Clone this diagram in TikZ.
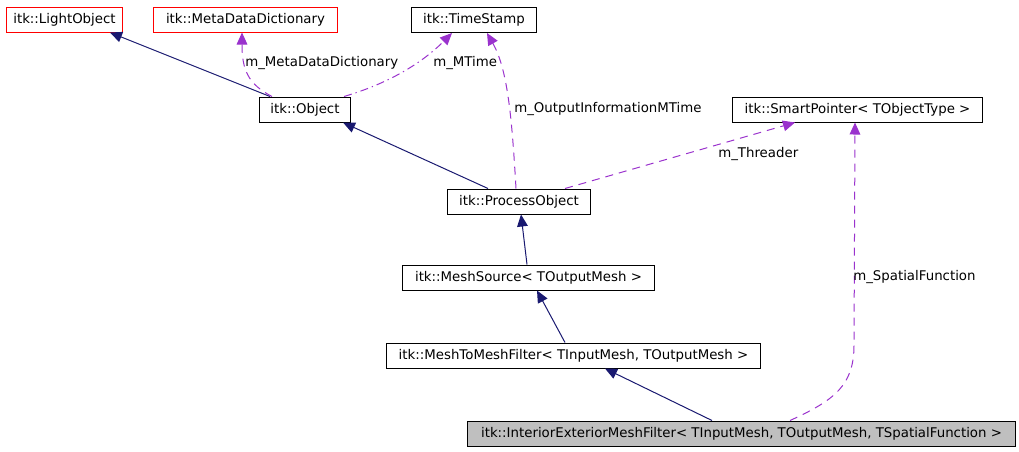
\documentclass[tikz,border=0pt]{standalone}
\usepackage{fontspec}
\setmainfont{DejaVu Sans}
\usetikzlibrary{arrows.meta}
\definecolor{edgeblue}{HTML}{191970}
\definecolor{edgepurple}{HTML}{9A32CD}
\definecolor{boxred}{HTML}{FF0000}
\definecolor{boxgray}{HTML}{BFBFBF}
\tikzset{
  classbox/.style={draw=black, line width=0.75pt, inner sep=0pt, minimum height=25*0.75pt,
    font=\fontsize{10}{12}\selectfont, anchor=west},
  undocbox/.style={classbox, draw=boxred},
  inherit/.style={edgeblue, line width=0.75pt, -{Triangle[length=9pt, width=8pt]}},
  usage/.style={edgepurple, line width=0.75pt, dash pattern=on 6pt off 4.5pt,
    -{Triangle[length=9pt, width=8pt]}},
  edgelabel/.style={font=\fontsize{10}{12}\selectfont, anchor=west, inner sep=0pt}
}
\begin{document}
\begin{tikzpicture}[x=0.75pt, y=-0.75pt]
  \useasboundingbox (0,0) rectangle (1019,451);
  % Classes, top row
  \node[undocbox, minimum width=116*0.75pt] (lobj) at (6,19.5) {itk::LightObject};
  \node[undocbox, minimum width=184*0.75pt] (meta) at (153,19.5) {itk::MetaDataDictionary};
  \node[classbox, minimum width=125*0.75pt] (stamp) at (411,20) {itk::TimeStamp};
  % Classes, middle
  \node[classbox, minimum width=91*0.75pt] (obj) at (259,109.5) {itk::Object};
  \node[classbox, minimum width=250*0.75pt] (sptr) at (732,109.5) {itk::SmartPointer< TObjectType >};
  \node[classbox, minimum width=143*0.75pt] (proc) at (447,201.5) {itk::ProcessObject};
  \node[classbox, minimum width=252*0.75pt] (msrc) at (402,277.5) {itk::MeshSource< TOutputMesh >};
  \node[classbox, minimum width=374*0.75pt] (mfilt) at (386,355.5) {itk::MeshToMeshFilter< TInputMesh, TOutputMesh >};
  % The class itself
  \node[classbox, fill=boxgray, minimum width=548*0.75pt] (iemf) at (467,433.5)
    {itk::InteriorExteriorMeshFilter< TInputMesh, TOutputMesh, TSpatialFunction >};

  % Inheritance
  \draw[inherit] (270,0 |- obj.north) -- (110,0 |- lobj.south);
  \draw[inherit] (488,0 |- proc.north) -- (343,0 |- obj.south);
  \draw[inherit] (527,0 |- msrc.north) -- (521,0 |- proc.south);
  \draw[inherit] (565,0 |- mfilt.north) -- (537,0 |- msrc.south);
  \draw[inherit] (712,0 |- iemf.north) -- (605,0 |- mfilt.south);

  % Members
  \draw[usage] (272,0 |- obj.north) .. controls (248,84) and (242,70) .. (242,0 |- meta.south);
  \node[edgelabel] (lblmeta) at (245,63) {m\_MetaDataDictionary};
  \draw[usage, dash pattern=on 6pt off 3pt on 1pt off 3pt]
    (344,0 |- obj.north) .. controls (400,80) and (430,55) .. (452,0 |- stamp.south);
  \node[edgelabel] (lblmtime) at (433,63) {m\_MTime};
  \draw[usage] (516,0 |- proc.north) .. controls (512,120) and (508,70) .. (487,0 |- stamp.south);
  \node[edgelabel] (lblinfo) at (514,109) {m\_OutputInformationMTime};
  \draw[usage] (565,0 |- proc.north) -- (795,0 |- sptr.south);
  \node[edgelabel] (lblthread) at (718,154) {m\_Threader};
  \draw[usage] (790,0 |- iemf.north) .. controls (835,400) and (854,385) .. (854,345)
    -- (855,0 |- sptr.south);
  \node[edgelabel] (lblspat) at (853,277) {m\_SpatialFunction};
\end{tikzpicture}
\end{document}
